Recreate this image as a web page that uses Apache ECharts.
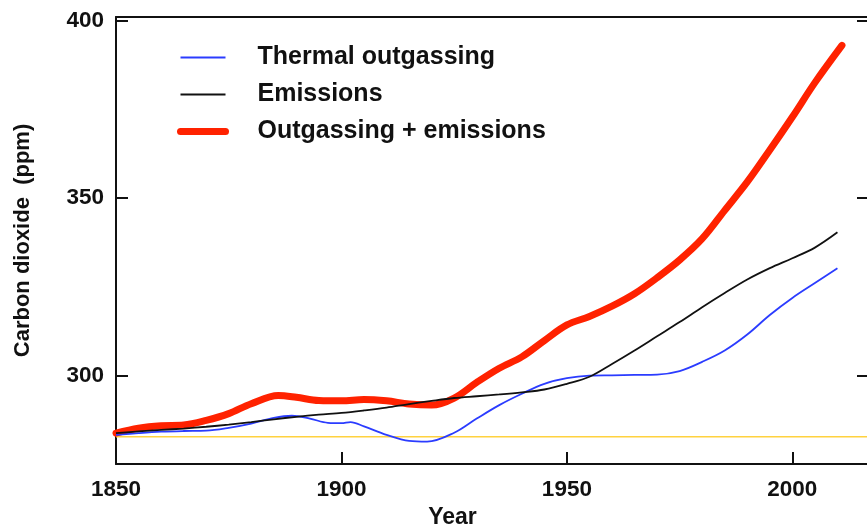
<!DOCTYPE html>
<html>
<head>
<meta charset="utf-8">
<script src="https://cdn.jsdelivr.net/npm/echarts@6/dist/echarts.min.js"></script>
<style>
html,body{margin:0;padding:0;background:#fff;}
#chart{width:867px;height:530px;}
</style>
</head>
<body>
<div id="chart"></div>
<script>
// ---- data ----
const years = [1850,1855,1860,1865,1870,1875,1880,1885,1890,1895,1900,1905,1910,1915,1920,1925,1930,1935,1940,1945,1950,1955,1960,1965,1970,1975,1980,1985,1990,1995,2000,2005,2010];

const thermalYears = [1850,1855,1860,1865,1870,1875,1880,1885,1889,1893,1897,1900,1902,1905,1910,1915,1919,1925,1930,1935,1940,1945,1950,1955,1960,1965,1970,1975,1980,1985,1990,1995,2000,2005,2010];
const thermal = [283.2,283.7,284.1,284.3,284.4,285.2,286.4,288.0,288.6,287.8,286.6,286.5,286.8,285.6,283.2,281.5,281.3,283.8,287.8,291.6,294.8,297.6,299.2,299.9,300.0,300.1,300.2,301.2,303.8,307.0,311.5,317.0,321.8,326.0,330.2];

const emissions = [283.7,284.2,284.6,285.0,285.5,286.1,286.8,287.6,288.3,288.9,289.4,290.1,290.9,291.9,292.8,293.6,294.1,294.6,295.2,296.0,297.6,299.6,303.2,307.0,311.0,315.0,319.2,323.2,327.0,330.2,333.0,336.0,340.3];

const combinedYears = [1850,1855,1860,1865,1870,1875,1880,1886,1890,1895,1900,1905,1910,1915,1920,1925,1930,1935,1940,1945,1950,1955,1960,1965,1970,1975,1980,1985,1990,1995,2000,2005,2011];
const combined = [283.7,285.1,285.8,286.0,287.3,289.2,292.0,294.3,293.8,292.9,292.8,293.2,292.8,291.9,291.6,293.6,298.0,302.0,305.2,309.8,314.2,316.6,319.5,323.0,327.5,332.5,338.5,346.5,354.5,363.5,372.8,382.5,393.0];

const baselineYears = [1850, 2017];
const baseline = [282.7, 282.7];

const yTicks = [300, 350, 400];
const seriesNames = ['Thermal outgassing', 'Emissions', 'Outgassing + emissions'];

const pair = (xs, ys) => xs.map((x, i) => [x, ys[i]]);

// ---- chart ----
const chart = echarts.init(document.getElementById('chart'), null, {renderer: 'canvas'});
const FONT = '"Liberation Sans", Arial, Helvetica, sans-serif';
const axisLineStyle = {color: '#111', width: 2};

chart.setOption({
  animation: false,
  backgroundColor: '#ffffff',
  grid: {left: 116, top: 17, width: 753, height: 447, outerBoundsMode: 'none', containLabel: false},
  legend: {
    orient: 'vertical',
    left: 177,
    top: 45,
    padding: 0,
    itemWidth: 45,
    itemHeight: 14,
    itemGap: 12,
    data: seriesNames,
    itemStyle: {opacity: 0},
    lineStyle: {width: 'inherit'},
    textStyle: {fontFamily: FONT, fontWeight: 'bold', fontSize: 25, color: '#111', lineHeight: 25, padding: [0, 0, 0, 27]}
  },
  xAxis: [{
    type: 'value', min: 1850, max: 2017, interval: 50,
    name: 'Year', nameLocation: 'middle', nameGap: 42,
    nameTextStyle: {fontFamily: FONT, fontWeight: 'bold', fontSize: 23, color: '#111', padding: [0, 80, 0, 0]},
    axisLine: {show: true, lineStyle: axisLineStyle},
    axisTick: {show: true, inside: true, length: 12, lineStyle: {color: '#111', width: 2}},
    axisLabel: {fontFamily: FONT, fontWeight: 'bold', fontSize: 22.5, color: '#111', margin: 14, showMaxLabel: false,
      formatter: v => String(v)},
    splitLine: {show: false}
  }, {
    type: 'value', position: 'top', min: 1850, max: 2017,
    axisLine: {show: true, onZero: false, lineStyle: axisLineStyle},
    axisTick: {show: false}, axisLabel: {show: false}, splitLine: {show: false}
  }],
  yAxis: [{
    type: 'value', min: 275, max: 401,
    name: 'Carbon dioxide  (ppm)', nameLocation: 'middle', nameGap: 82,
    nameTextStyle: {fontFamily: FONT, fontWeight: 'bold', fontSize: 22, color: '#111'},
    axisLine: {show: true, lineStyle: axisLineStyle},
    axisTick: {show: true, inside: true, length: 12, customValues: yTicks, lineStyle: {color: '#111', width: 2}},
    axisLabel: {fontFamily: FONT, fontWeight: 'bold', fontSize: 22.5, color: '#111', margin: 12, customValues: yTicks,
      formatter: v => String(v)},
    splitLine: {show: false}
  }, {
    type: 'value', position: 'right', min: 275, max: 401,
    axisLine: {show: true, onZero: false, lineStyle: axisLineStyle},
    axisTick: {show: true, inside: true, length: 12, customValues: yTicks, lineStyle: {color: '#111', width: 2}},
    axisLabel: {show: false}, splitLine: {show: false}
  }],
  series: [
    {
      name: 'Pre-industrial', type: 'line', data: pair(baselineYears, baseline),
      symbol: 'none', silent: true, z: 1,
      lineStyle: {color: '#ffd23f', width: 1.6}
    },
    {
      name: seriesNames[0], type: 'line', data: pair(thermalYears, thermal),
      symbol: 'none', smooth: 0.35, z: 3,
      itemStyle: {color: '#2b3cff'},
      lineStyle: {color: '#2b3cff', width: 1.8}
    },
    {
      name: seriesNames[1], type: 'line', data: pair(years, emissions),
      symbol: 'none', smooth: 0.35, z: 4,
      itemStyle: {color: '#111111'},
      lineStyle: {color: '#111111', width: 1.8}
    },
    {
      name: seriesNames[2], type: 'line', data: pair(combinedYears, combined),
      symbol: 'none', smooth: 0.35, z: 2,
      itemStyle: {color: '#ff2200'},
      lineStyle: {color: '#ff2200', width: 7, cap: 'round', join: 'round'}
    }
  ]
});
</script>
</body>
</html>
